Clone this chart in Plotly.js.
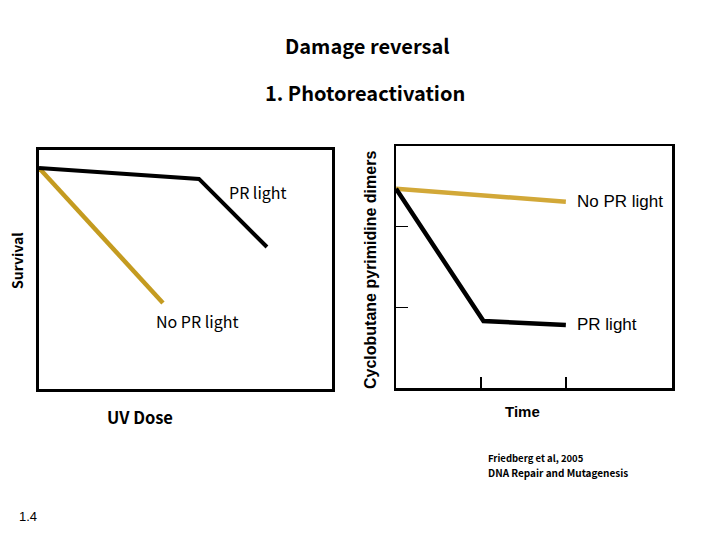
<!DOCTYPE html>
<html><head><meta charset="utf-8">
<script src="https://cdn.plot.ly/plotly-3.0.1.min.js"></script>
<style>html,body{margin:0;padding:0;background:#fff}</style>
</head><body><div id="chart" style="width:720px;height:540px"></div>
<script>
// Left panel: Survival vs UV Dose (relative units)
const leftPR_x = [0, 0.546, 0.778];
const leftPR_y = [0.925, 0.879, 0.594];
const leftNoPR_x = [0, 0.423];
const leftNoPR_y = [0.925, 0.36];
// Right panel: Cyclobutane pyrimidine dimers vs Time
const rightNoPR_x = [0, 2];
const rightNoPR_y = [2.47, 2.31];
const rightPR_x = [0, 1.03, 2];
const rightPR_y = [2.47, 0.83, 0.78];
const rightTicksX = [1, 2];
const rightTicksY = [1, 2];

const gold1 = '#c49b20', gold2 = '#d2a838';
const traces = [
  {x: leftNoPR_x, y: leftNoPR_y, xaxis:'x', yaxis:'y', mode:'lines', line:{color:gold1, width:4.5}, hoverinfo:'skip'},
  {x: leftPR_x, y: leftPR_y, xaxis:'x', yaxis:'y', mode:'lines', line:{color:'#000', width:4}, hoverinfo:'skip'},
  {x: rightNoPR_x, y: rightNoPR_y, xaxis:'x2', yaxis:'y2', mode:'lines', line:{color:gold2, width:4.5}, hoverinfo:'skip'},
  {x: rightPR_x, y: rightPR_y, xaxis:'x2', yaxis:'y2', mode:'lines', line:{color:'#000', width:4.5}, hoverinfo:'skip'}
];
const F = '"Noto Sans CJK JP", "DejaVu Sans", sans-serif';
const A = '"Liberation Sans", Arial, sans-serif';
function ann(text, x, y, size, opts) {
  return Object.assign({text, x, y, xref:'paper', yref:'paper', showarrow:false,
    font:{family:F, size:size, color:'#000'}, xanchor:'center', yanchor:'middle'}, opts||{});
}
const W = 720, H = 540;
const px = v => v / W, py = v => 1 - v / H;
const layout = {
  width: W, height: H, margin:{l:0,r:0,t:0,b:0},
  paper_bgcolor:'#fff', plot_bgcolor:'rgba(0,0,0,0)', showlegend:false,
  xaxis:{domain:[px(39), px(332)], range:[0,1], showline:true, mirror:true, linewidth:3, linecolor:'#000',
    showticklabels:false, ticks:'', showgrid:false, zeroline:false, fixedrange:true},
  yaxis:{domain:[py(389), py(150)], range:[0,1], showline:true, mirror:true, linewidth:3, linecolor:'#000',
    showticklabels:false, ticks:'', showgrid:false, zeroline:false, fixedrange:true},
  xaxis2:{domain:[px(396), px(672)], range:[0,3.25], anchor:'y2', showline:true, mirror:true, linewidth:2.5, linecolor:'#000',
    tickvals:rightTicksX, ticks:'inside', ticklen:11, tickwidth:2, tickcolor:'#000', showticklabels:false,
    showgrid:false, zeroline:false, fixedrange:true},
  yaxis2:{domain:[py(388), py(146)], range:[0,3], anchor:'x2', showline:true, mirror:true, linewidth:2.5, linecolor:'#000',
    tickvals:rightTicksY, ticks:'inside', ticklen:12, tickwidth:1.5, tickcolor:'#000', showticklabels:false,
    showgrid:false, zeroline:false, fixedrange:true},
  annotations:[
    ann('<b>Damage reversal</b>', px(367), py(45), 20),
    ann('<b>1. Photoreactivation</b>', px(365), py(92), 20),
    ann('PR light', px(258), py(192), 16),
    ann('No PR light', px(197), py(321), 16),
    ann('<b>Survival</b>', px(17), py(261), 14, {textangle:-90}),
    ann('<b>UV Dose</b>', px(140), py(417), 16.5),
    ann('No PR light', px(575), py(201), 17, {xanchor:'left', font:{family:A, size:17, color:'#000'}}),
    ann('PR light', px(575), py(324), 17, {xanchor:'left', font:{family:A, size:17, color:'#000'}}),
    ann('<b>Cyclobutane pyrimidine dimers</b>', px(370), py(270), 16, {textangle:-90, font:{family:A, size:16, color:'#000'}}),
    ann('<b>Time</b>', px(522), py(411), 15, {font:{family:A, size:15, color:'#000'}}),
    ann('<b>Friedberg et al, 2005</b>', px(486), py(458), 9.5, {xanchor:'left'}),
    ann('<b>DNA Repair and Mutagenesis</b>', px(486), py(472), 10, {xanchor:'left'}),
    ann('1.4', px(28), py(516), 13, {font:{family:A, size:13, color:'#000'}})
  ]
};
Plotly.newPlot('chart', traces, layout, {displayModeBar:false, staticPlot:true});
</script></body></html>
